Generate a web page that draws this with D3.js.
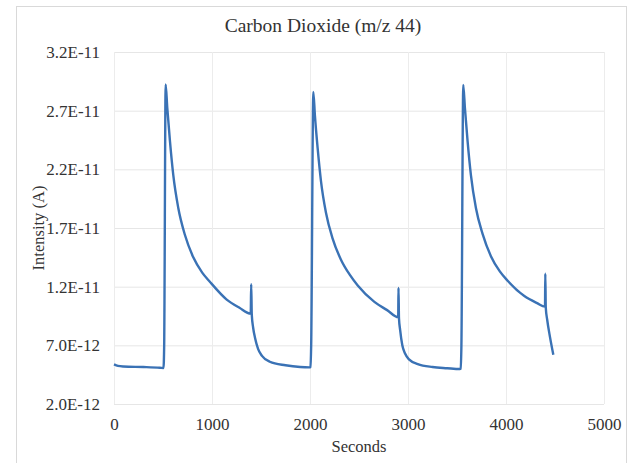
<!DOCTYPE html>
<html>
<head>
<meta charset="utf-8">
<script src="https://cdn.jsdelivr.net/npm/d3@7"></script>
<style>
  body { margin: 0; background: #fff; }
  svg { display: block; }
  text { font-family: "Liberation Serif", "Times New Roman", serif; fill: #333; }
</style>
</head>
<body>
<div id="vis"></div>
<script>
// values
const seconds = [0, 40, 95, 300, 469, 505, 512, 527, 544, 571, 605, 656, 724, 809, 900, 980, 1150, 1280, 1395, 1400, 1406, 1420, 1440, 1470, 1510, 1590, 1750, 1900,
  1995, 2005, 2012, 2034, 2050, 2078, 2112, 2163, 2231, 2316, 2407, 2487, 2657, 2787, 2900, 2903, 2908, 2920, 2942, 2970, 3010, 3100, 3250, 3400,
  3530, 3538, 3545, 3564, 3581, 3608, 3642, 3693, 3761, 3846, 3937, 4017, 4187, 4317, 4398, 4401, 4406, 4420, 4449, 4483]
const intensity = [5.38e-12, 5.25e-12, 5.2e-12, 5.15e-12, 5.09e-12, 5.07e-12, 7.0e-12, 2.924e-11, 2.72e-11, 2.44e-11, 2.15e-11, 1.87e-11, 1.64e-11, 1.45e-11, 1.32e-11, 1.24e-11, 1.09e-11, 1.02e-11, 9.7e-12, 1.22e-11, 9.6e-12, 8.5e-12, 7.6e-12, 6.7e-12, 6.1e-12, 5.6e-12, 5.3e-12, 5.15e-12,
  5.12e-12, 5.15e-12, 7.0e-12, 2.86e-11, 2.66e-11, 2.38e-11, 2.1e-11, 1.83e-11, 1.61e-11, 1.43e-11, 1.3e-11, 1.21e-11, 1.07e-11, 1.0e-11, 9.4e-12, 1.19e-11, 9.3e-12, 8.3e-12, 7.0e-12, 6.3e-12, 5.8e-12, 5.4e-12, 5.15e-12, 5.05e-12,
  4.98e-12, 5.0e-12, 7.0e-12, 2.92e-11, 2.72e-11, 2.44e-11, 2.15e-11, 1.87e-11, 1.65e-11, 1.46e-11, 1.33e-11, 1.25e-11, 1.12e-11, 1.06e-11, 1.03e-11, 1.31e-11, 1.02e-11, 9.2e-12, 7.7e-12, 6.2e-12]
const xTicks = [0, 1000, 2000, 3000, 4000, 5000]
const yTicks = [2e-12, 7e-12, 1.2e-11, 1.7e-11, 2.2e-11, 2.7e-11, 3.2e-11]

const title = 'Carbon Dioxide (m/z 44)'
const xTitle = 'Seconds'
const yTitle = 'Intensity (A)'

const W = 633, H = 463
const margin = {left: 114, top: 52, right: 29, bottom: 59}
const width = W - margin.left - margin.right
const height = H - margin.top - margin.bottom

const dataset = seconds.map((s, i) => ({t: s, v: intensity[i]}))

const svg = d3.select('#vis').append('svg')
    .attr('width', W)
    .attr('height', H)

// chart frame
svg.append('rect')
    .attr('x', 16.5).attr('y', 6.5)
    .attr('width', 610).attr('height', 470)
    .attr('fill', 'none')
    .attr('stroke', '#d9d9d9')

const x = d3.scaleLinear().domain([0, 5000]).range([0, width])
const y = d3.scaleLinear().domain([2e-12, 3.2e-11]).range([height, 0])

const g = svg.append('g').attr('transform', `translate(${margin.left},${margin.top})`)

// gridlines
g.append('g')
    .call(d3.axisLeft(y).tickValues(yTicks).tickSize(-width).tickFormat(''))
    .call(a => a.select('.domain').remove())
    .call(a => a.selectAll('line').attr('stroke', '#e6e6e6'))
g.append('g')
    .call(d3.axisBottom(x).tickValues(xTicks).tickSize(height).tickFormat(''))
    .call(a => a.select('.domain').remove())
    .call(a => a.selectAll('line').attr('stroke', '#ececec'))

// tick labels
const fmt = d => d3.format('.1e')(d).toUpperCase()
g.append('g')
    .call(d3.axisLeft(y).tickValues(yTicks).tickSize(0).tickPadding(14).tickFormat(fmt))
    .call(a => a.select('.domain').remove())
    .call(a => a.selectAll('text').style('font-size', '17px').attr('fill', '#444'))
g.append('g')
    .attr('transform', `translate(0,${height})`)
    .call(d3.axisBottom(x).tickValues(xTicks).tickSize(0).tickPadding(14).tickFormat(d3.format('d')))
    .call(a => a.select('.domain').remove())
    .call(a => a.selectAll('text').style('font-size', '17px').attr('fill', '#444'))

// the series
const line = d3.line().x(d => x(d.t)).y(d => y(d.v)).curve(d3.curveMonotoneX)
g.append('path')
    .datum(dataset)
    .attr('fill', 'none')
    .attr('stroke', '#3a72b5')
    .attr('stroke-width', 2.4)
    .attr('stroke-linejoin', 'round')
    .attr('d', line)

// titles
svg.append('text')
    .attr('x', 323).attr('y', 32)
    .attr('text-anchor', 'middle')
    .style('font-size', '19.5px')
    .text(title)
svg.append('text')
    .attr('x', margin.left + width / 2).attr('y', 452)
    .attr('text-anchor', 'middle')
    .style('font-size', '16.5px')
    .text(xTitle)
svg.append('text')
    .attr('transform', `translate(44,${margin.top + height / 2}) rotate(-90)`)
    .attr('text-anchor', 'middle')
    .style('font-size', '16.5px')
    .text(yTitle)
</script>
</body>
</html>
